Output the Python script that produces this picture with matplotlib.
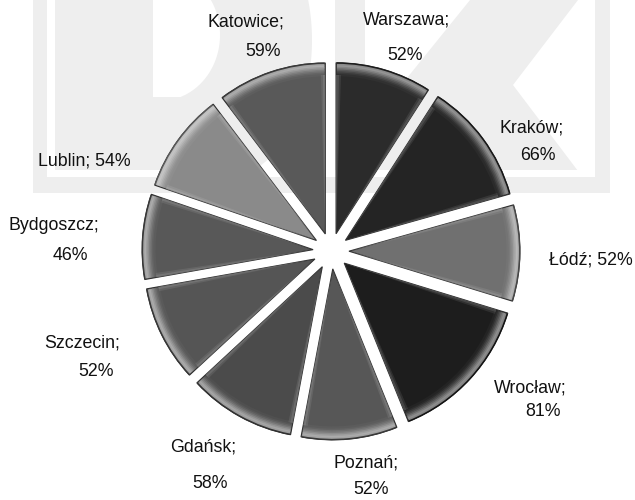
import matplotlib

matplotlib.use("Agg")
import matplotlib.pyplot as plt
import numpy as np
from matplotlib.colors import to_rgb
from matplotlib.patches import Polygon, Rectangle, Wedge

# --- data -------------------------------------------------------------------
cities = ["Warszawa", "Kraków", "Łódź", "Wrocław", "Poznań",
          "Gdańsk", "Szczecin", "Bydgoszcz", "Lublin", "Katowice"]
values = [52, 66, 52, 81, 52, 58, 52, 46, 54, 59]
shades = ["#2b2b2b", "#242424", "#707070", "#1d1d1d", "#575757",
          "#4b4b4b", "#555555", "#585858", "#8a8a8a", "#595959"]

# --- layout (image pixels, y measured from the top) --------------------------
W, H = 635, 500
CX, CY, R = 331, 251, 171
EXPLODE = 0.105  # fraction of the radius
FONT = 12.8
# one entry per label line: (x centre, y centre)
label_lines = {
    "Warszawa": [(407, 20), (405, 55)],
    "Kraków": [(532, 128), (538, 155)],
    "Łódź": [(591, 260)],
    "Wrocław": [(530, 388), (543, 412)],
    "Poznań": [(366, 463), (371, 490)],
    "Gdańsk": [(203, 447), (210, 483)],
    "Szczecin": [(82, 343), (96, 372)],
    "Bydgoszcz": [(54, 225), (70, 256)],
    "Lublin": [(84, 161)],
    "Katowice": [(246, 22), (263, 52)],
}

WM_GREY = "#eeeeee"


def y(v):
    return H - v


def blend(c, target, t):
    c, target = np.array(to_rgb(c)), np.array(to_rgb(target))
    return tuple(c + (target - c) * t)


def watermark(ax):
    # faint logo in the background
    ax.add_patch(Rectangle((33, y(193)), 577, 203, color=WM_GREY, lw=0, zorder=0))
    for x0, x1, y0, y1 in [(47, 55, -5, 177), (47, 595, 170, 177), (587, 595, -5, 177)]:
        ax.add_patch(Rectangle((x0, y(y1)), x1 - x0, y1 - y0, color="white", lw=0, zorder=0))
    # counter of the first letter
    t = np.linspace(-35, 62, 40)
    xs = 160 + 60 * np.sqrt(np.clip(1 - (t / 66) ** 2, 0, 1))
    pts = [(153, y(0))] + [(x, y(35 + tt)) for x, tt in zip(xs, t)] + [(153, y(97))]
    ax.add_patch(Polygon(pts, closed=True, color="white", lw=0, zorder=0))
    # gap after the rounded letter
    ys = np.linspace(0, 170, 40)
    xs = 220 + 92 * np.sqrt(np.clip(1 - ((ys - 40) / 140) ** 2, 0, 1))
    pts = [(x, y(v)) for x, v in zip(xs, ys)] + [(335, y(170)), (335, y(0))]
    ax.add_patch(Polygon(pts, closed=True, color="white", lw=0, zorder=0))
    # notches of the K
    ax.add_patch(Polygon([(365, y(0)), (470, y(0)), (365, y(130))],
                         closed=True, color="white", lw=0, zorder=0))
    ax.add_patch(Polygon([(578, y(0)), (588, y(0)), (588, y(171)), (578, y(171)), (513, y(85))],
                         closed=True, color="white", lw=0, zorder=0))


def bevel(ax, w, base):
    cx, cy = w.center
    r, t1, t2 = w.r, w.theta1, w.theta2
    # rim highlight along the arc
    prof = [-0.35, 0.45, 0.5, 0.42, 0.32, 0.22, 0.14, 0.07, 0.03]
    step = 0.0085 * r
    for k, p in enumerate(prof):
        col = blend(base, "white" if p > 0 else "black", abs(p))
        ax.add_patch(Wedge((cx, cy), r - k * step + 0.4, t1 + 0.3, t2 - 0.3, width=step + 0.8,
                           color=col, lw=0, zorder=2 + k * 0.01))
    # light strips along the two straight edges
    for ang, sgn in [(t1, 1), (t2, -1)]:
        a = np.deg2rad(ang)
        u = np.array([np.cos(a), np.sin(a)])
        n = sgn * np.array([-np.sin(a), np.cos(a)])
        c = np.array([cx, cy])
        for wd, al in [(4.5, 0.24), (2.5, 0.36)]:
            pts = [c, c + u * r * 0.93, c + u * r * 0.93 + n * wd]
            ax.add_patch(Polygon(pts, closed=True, color=blend(base, "white", 0.35),
                                 alpha=al, lw=0, zorder=3))


fig = plt.figure(figsize=(W / 100, H / 100), dpi=100)
ax = fig.add_axes([0, 0, 1, 1])
watermark(ax)

# matplotlib's explode is an absolute offset, so scale it by the radius
wedges, _ = ax.pie(values, colors=shades, startangle=90, counterclock=False,
                   explode=[EXPLODE * R] * len(values), radius=R, center=(CX, y(CY)),
                   frame=True, wedgeprops=dict(edgecolor="#303030", linewidth=0.8))
for w, s in zip(wedges, shades):
    w.set_zorder(1)
    bevel(ax, w, s)

for city, v in zip(cities, values):
    pos = label_lines[city]
    if len(pos) == 1:
        lines = [f"{city}; {v}%"]
    else:
        lines = [f"{city};", f"{v}%"]
    for txt, (lx, ly) in zip(lines, pos):
        ax.text(lx, y(ly), txt, ha="center", va="center", fontsize=FONT,
                family=["Liberation Sans", "DejaVu Sans"], color="#111111", zorder=5)

ax.set_xlim(0, W)
ax.set_ylim(0, H)
ax.set_aspect("equal", adjustable="box")
ax.axis("off")
fig.savefig("out.png", dpi=100, facecolor="white")
